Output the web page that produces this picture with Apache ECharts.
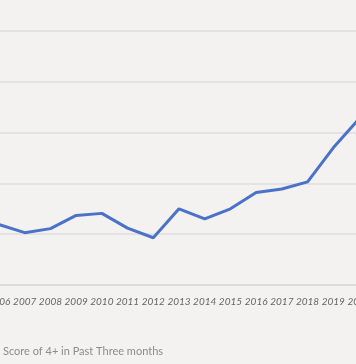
<!DOCTYPE html>
<html>
<head>
<meta charset="utf-8">
<script src="https://cdn.jsdelivr.net/npm/echarts@6/dist/echarts.min.js"></script>
<style>
html,body{margin:0;padding:0;background:#f3f2f0;}
#c{width:356px;height:364px;}
</style>
</head>
<body>
<div id="c"></div>
<script>
const years = ['2006','2007','2008','2009','2010','2011','2012','2013','2014','2015','2016','2017','2018','2019','2020'];
const seriesName = 'Score of 4+ in Past Three months';
const values = [1.19,1.03,1.11,1.37,1.41,1.12,0.93,1.50,1.30,1.50,1.82,1.89,2.03,2.70,3.27];
const yMin = 0, yMax = 5, yInterval = 1;

const chart = echarts.init(document.getElementById('c'), null, {renderer:'canvas'});
chart.setOption({
  backgroundColor: '#f3f2f0',
  animation: false,
  title: {
    text: seriesName,
    left: -2, top: 341,
    textStyle: {fontFamily: 'Lato', fontSize: 11, fontWeight: 'normal', color: '#8c8c8c'}
  },
  grid: {left: -1, right: -3, top: 31, bottom: 79, outerBoundsMode: 'none', containLabel: false},
  xAxis: {
    type: 'category',
    data: years,
    boundaryGap: false,
    axisLine: {show: true, lineStyle: {color: '#dcdcdc', width: 2}},
    axisTick: {show: false},
    axisLabel: {show: true, interval: 0, margin: 12, fontFamily: 'Lato', fontStyle: 'italic', fontSize: 10, color: '#666666', showMinLabel: true, showMaxLabel: true, hideOverlap: false},
    splitLine: {show: false}
  },
  yAxis: {
    type: 'value',
    min: yMin, max: yMax, interval: yInterval,
    axisLabel: {show: false},
    axisLine: {show: false},
    axisTick: {show: false},
    splitLine: {show: true, lineStyle: {color: '#dfdedc', width: 1.5}}
  },
  series: [{
    name: seriesName,
    type: 'line',
    data: values,
    symbol: 'none',
    lineStyle: {color: '#4a72c8', width: 3},
    itemStyle: {color: '#4a72c8'}
  }]
});
</script>
</body>
</html>
